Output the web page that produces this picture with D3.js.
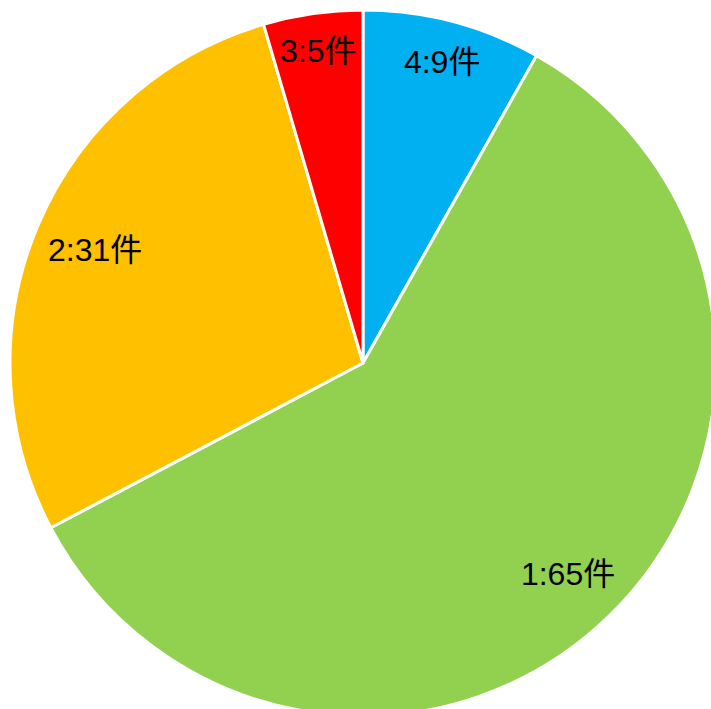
<!DOCTYPE html>
<html>
<head>
    <meta charset="utf-8" />
    <script src="https://d3js.org/d3.v7.min.js"></script>
    <style>
        body { margin: 0; background: #fff; }
        text { font-family: "Liberation Sans", "Noto Sans CJK JP", sans-serif; }
    </style>
</head>
<body>
    <svg id="pieChart" width="711" height="709"></svg>
<script>
    // data (clockwise from 12 o'clock)
    var labels = ["4", "1", "2", "3"];
    var counts = [9, 65, 31, 5];
    var colours = ["#00B0F0", "#92D050", "#FFC000", "#FF0000"];

    var width = 711, height = 709;
    var cx = 363, cy = 363, radius = 353;

    var svg = d3.select("#pieChart")
        .append("g")
        .attr("transform", "translate(" + cx + "," + cy + ")");

    var slices = labels.map(function (l, i) {
        return { label: l, count: counts[i], colour: colours[i] };
    });

    var pie = d3.pie()
        .sort(null)
        .value(d => d.count);

    var arc = d3.arc()
        .innerRadius(0)
        .outerRadius(radius);

    var arcs = pie(slices);

    svg.selectAll(".slice")
        .data(arcs)
        .enter().append("path")
        .attr("class", "slice")
        .attr("d", arc)
        .attr("fill", d => d.data.colour)
        .attr("stroke", "#fff")
        .attr("stroke-width", 3)
        .attr("stroke-linejoin", "round");

    // labels, placed "inside end" like a spreadsheet chart
    var limit = radius - 11;
    svg.selectAll(".lbl")
        .data(arcs)
        .enter().append("text")
        .attr("class", "lbl")
        .attr("text-anchor", "middle")
        .attr("dominant-baseline", "central")
        .style("font-size", "32px")
        .attr("fill", "#000")
        .text(d => d.data.label + ":" + d.data.count + "件")
        .each(function (d) {
            var w = this.getComputedTextLength();
            var h = 40;
            var a = (d.startAngle + d.endAngle) / 2;
            var sx = Math.abs(Math.sin(a)), sy = Math.abs(Math.cos(a));
            // solve (d*sx + w/2)^2 + (d*sy + h/2)^2 = limit^2
            var b = sx * w + sy * h;
            var c = (w * w + h * h) / 4 - limit * limit;
            var dist = (-b + Math.sqrt(b * b - 4 * c)) / 2;
            d3.select(this)
                .attr("x", dist * Math.sin(a))
                .attr("y", -dist * Math.cos(a));
        });
</script>
</body>
</html>
